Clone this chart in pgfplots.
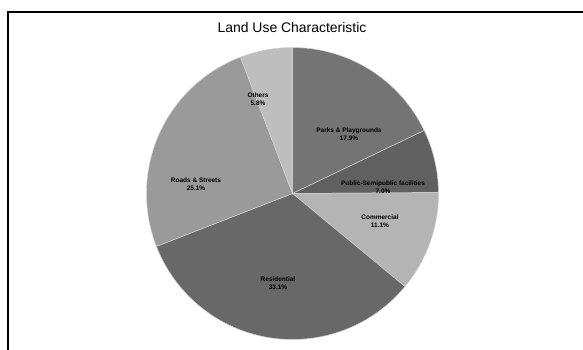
\documentclass[border=0pt]{standalone}
\usepackage{pgfplots}
\usepackage{pgfplotstable}
\pgfplotsset{compat=1.18}
\usepackage{fontspec}
\setmainfont{Liberation Sans}

% Land use shares in percent, clockwise from 12 o'clock
\pgfplotstableread[col sep=comma]{
name,value
Parks,17.9
Public,7.0
Commercial,11.1
Residential,33.1
Roads,25.1
Others,5.8
}\landuse

\definecolor{slice0}{RGB}{116,116,116}
\definecolor{slice1}{RGB}{96,96,96}
\definecolor{slice2}{RGB}{180,180,180}
\definecolor{slice3}{RGB}{104,104,104}
\definecolor{slice4}{RGB}{154,154,154}
\definecolor{slice5}{RGB}{190,190,190}

\begin{document}
\begin{tikzpicture}
\path[use as bounding box] (0,0) rectangle (583bp,350bp);
\begin{axis}[
  x=1bp, y=1bp,
  xmin=0, xmax=583, ymin=0, ymax=350,
  hide axis, clip=false,
  anchor=origin, at={(0,0)},
]
% chart frame
\draw[black, line width=1.4bp] (axis cs:8,-2) -- (axis cs:8,338) -- (axis cs:585,338);
% title
\node[font=\fontsize{14}{16}\selectfont] at (axis cs:292,322) {Land Use Characteristic};

% pie slices
\pgfmathsetmacro{\startangle}{90}
\pgfplotsforeachungrouped \i in {0,...,5}{%
  \pgfplotstablegetelem{\i}{value}\of\landuse
  \pgfmathsetmacro{\endangle}{\startangle-3.6*\pgfplotsretval}%
  \edef\slice{\noexpand\fill[fill=slice\i, draw=white!82!black, line width=0.5bp]
    (axis cs:292.5,156.5) -- ++(\startangle:146bp)
    arc[start angle=\startangle, end angle=\endangle, radius=146bp] -- cycle;}%
  \slice
  \global\let\startangle\endangle
}

% data labels
\tikzset{lbl/.style={font=\bfseries\fontsize{6.5}{7.5}\selectfont, align=center, text=black}}
\node[lbl] at (axis cs:349,216) {Parks \& Playgrounds\\17.9\%};
\node[lbl] at (axis cs:383,163) {Public-Semipublic facilities\\7.0\%};
\node[lbl] at (axis cs:380,129) {Commercial\\11.1\%};
\node[lbl] at (axis cs:278,67) {Residential\\33.1\%};
\node[lbl] at (axis cs:196,166) {Roads \& Streets\\25.1\%};
\node[lbl] at (axis cs:258,251) {Others\\5.8\%};
\end{axis}
\end{tikzpicture}
\end{document}
